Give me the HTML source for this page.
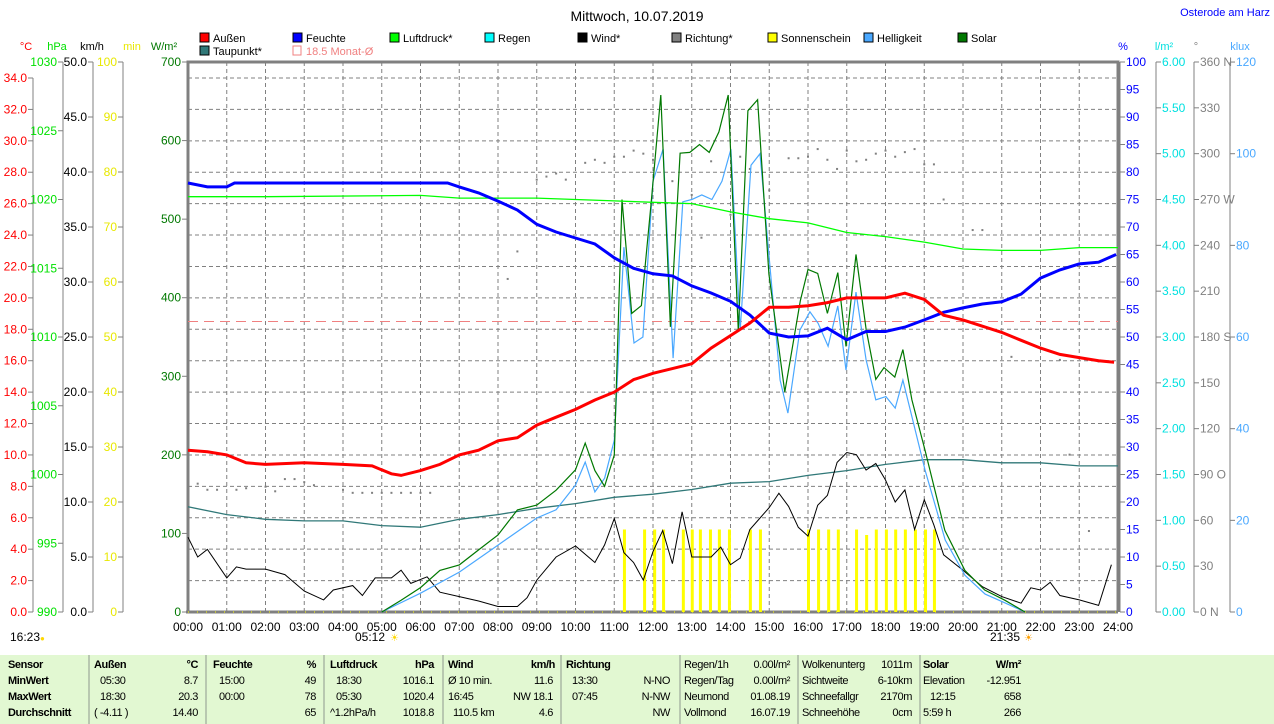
<!DOCTYPE html>
<html><head><meta charset="utf-8">
<style>
body{margin:0;background:#fff;width:1274px;height:724px;overflow:hidden;font-family:"Liberation Sans",sans-serif}
svg{position:absolute;left:0;top:0}
#tbl{position:absolute;left:0;top:655px;width:1274px;height:69px;background:#e2f8d2;font-size:11px;font-family:"Liberation Sans",sans-serif;letter-spacing:-0.4px}
#tbl span{position:absolute;white-space:nowrap}
</style></head><body>
<svg id="chart" width="1274" height="655" font-family="Liberation Sans, sans-serif" font-size="12"></svg>
<div id="tbl"></div>
<script>
// ---- data ----
const tempT=[0,0.5,1,1.5,2,3,4,4.75,5.25,5.5,6,6.5,7,7.5,8,8.5,9,9.5,10,10.5,11,11.5,12,12.5,13,13.5,14,14.5,15,15.5,16,16.5,17,17.5,18,18.5,19,19.5,20,20.5,21,21.5,22,22.5,23,23.5,23.9];
const tempV=[10.3,10.2,10.0,9.5,9.4,9.5,9.4,9.3,8.8,8.7,9.0,9.4,10.0,10.3,10.9,11.1,11.9,12.4,12.9,13.5,14.0,14.8,15.2,15.5,15.8,16.8,17.6,18.4,19.4,19.4,19.5,19.7,20.0,20.0,20.0,20.3,19.9,18.9,18.6,18.2,17.8,17.3,16.8,16.4,16.2,16.0,15.9];
const humT=[0,0.5,1,1.2,5,6.7,7,7.5,8,8.5,9,9.5,10,10.5,11,11.5,12,12.5,13,13.5,14,14.5,15,15.5,16,16.5,17,17.5,18,18.5,19,19.5,20,20.5,21,21.5,22,22.5,23,23.5,23.95];
const humV=[78,77.3,77.3,78,78,78,77.3,76.2,74.7,73.1,70.5,69.1,68,66.9,64.4,62.5,61.5,61.1,59.3,58,56.5,54,50.7,50,50.2,51.6,49.5,51,51,51.8,53.1,54.5,55.3,56,56.4,57.8,60.7,62.2,63.3,63.6,65];
const presT=[0,2,6,7,9,11,12,13,14,15,16,17,18,19,20,21,22,23,24];
const presV=[1020.2,1020.2,1020.3,1020.1,1020.1,1019.9,1019.8,1019.7,1019.1,1018.6,1018.3,1017.6,1017.3,1016.9,1016.4,1016.3,1016.3,1016.5,1016.5];
const dewT=[0,1,2,3,4,5,6,7,8,9,10,11,12,13,14,15,16,17,18,19,20,21,22,23,24];
const dewV=[6.7,6.2,5.9,5.8,5.8,5.5,5.4,5.9,6.2,6.6,6.9,7.3,7.5,7.8,8.2,8.3,8.7,9.0,9.4,9.7,9.7,9.5,9.5,9.3,9.3];
const windT=[0,0.25,0.5,1,1.25,1.5,2,2.5,3,3.5,3.75,4.25,4.5,4.83,5.25,5.5,5.75,6.17,6.5,7,7.5,8,8.5,8.75,9,9.5,10,10.5,10.75,11,11.25,11.5,11.75,12,12.25,12.5,12.75,13,13.5,13.75,14,14.25,14.5,14.75,15,15.25,15.5,15.75,16,16.25,16.5,16.75,17,17.25,17.5,17.75,18,18.25,18.5,18.75,19,19.25,19.5,20,20.5,21,21.5,21.75,22,22.25,22.5,23,23.5,23.83];
const windV=[6.8,5,5.7,3.1,4.1,3.9,3.9,3.4,1.9,1.1,2,2.4,1.5,3.1,3.1,3.8,2.6,3.2,1.8,1.4,1,0.5,0.5,1.3,2.9,5,6,4.5,6.1,8.5,5.4,4.5,2.9,5.5,7.4,4.4,9.1,5,5,5.9,4.3,4.9,7.5,8.5,9.5,10.8,9.6,7.7,6.9,9.7,10.6,13.6,14.5,14.3,12.9,13.5,12,10,11.1,7.5,10.2,7.9,5.2,3.8,2.3,1.4,0.8,2.2,2,2.7,1.5,1.1,0.6,4.3];
const solT=[5,5.5,6,6.5,7,7.5,8,8.5,9,9.5,10,10.25,10.5,10.75,11,11.2,11.45,11.7,11.95,12.2,12.45,12.7,12.95,13.2,13.45,13.7,13.94,14.2,14.45,14.7,14.99,15.4,15.8,16.0,16.25,16.5,16.77,16.98,17.24,17.5,17.75,17.96,18.24,18.45,18.68,19.02,19.53,20.05,20.56,21.08,21.6];
const solV=[0,15,31,53,60,79,98,130,136,155,181,215,180,160,200,525,380,390,520,658,363,584,585,595,585,611,658,358,638,652,430,280,396,436,431,380,432,338,455,360,296,311,299,334,270,206,104,53,28,15,0];
const luxT=[5,6,7,8,9,9.5,10,10.25,10.5,10.75,11,11.25,11.51,11.74,12,12.26,12.52,12.77,13,13.26,13.52,13.78,14.01,14.25,14.53,14.76,14.99,15.28,15.48,15.79,16.05,16.26,16.52,16.77,16.98,17.24,17.5,17.75,18.01,18.25,18.45,19.02,19.54,20.05,20.57,21.08,21.6];
const luxV=[0,4.1,8.7,14.6,20.5,22.3,27.7,32.7,26.2,29.2,37.5,79.6,58.7,60,94,101,55.4,89.5,90,91,90,94,101,61.5,97.5,100,78,50.6,43.4,61.5,65.5,63,58,66.8,52.8,69.8,55,46.3,47,44.5,50.6,31,15.7,8,3.9,2,0];
const sunT=[11.25,11.77,12.03,12.26,12.77,13.0,13.21,13.47,13.7,13.96,14.5,14.76,16.0,16.26,16.52,16.77,17.24,17.5,17.75,18.01,18.25,18.5,18.76,19.02,19.25];
const sunV=[15,15,15,15,15,15,15,15,15,15,15,15,15,15,15,15,15,14,15,15,15,15,15,15,15];
const dirT=[0.25,0.5,0.75,1.25,1.5,2,2.25,2.5,2.75,3,3.25,4,4.25,4.5,4.75,5,5.25,5.5,5.75,6,6.25,8.25,8.5,9,9.25,9.5,9.75,10.25,10.5,10.75,11,11.25,11.5,11.75,12,12.5,13,13.25,13.5,14,14.25,14.5,15,15.5,15.75,16,16.25,16.5,16.75,17,17.25,17.5,17.75,18,18.25,18.5,18.75,19,19.25,19.5,20.25,20.5,21.25,22.5,22.75,23.25,23.5];
const dirV=[84,80,80,80,81,82,79,87,87,85,83,80,78,78,78,78,78,78,78,78,78,218,236,283,285,287,283,294,296,294,298,298,302,300,296,282,273,245,295,260,298,290,276,297,297,298,303,296,290,302,295,296,300,302,298,301,303,293,293,270,250,250,167,165,103,53,164];
// ---- scales ----
const X=h=>188+h*38.75;
const yC=c=>612-c*15.706, yP=p=>612-(p-990)*13.75, yK=k=>612-k*11, yM=m=>612-m*5.5;
const yW=w=>612-w*0.7857, yH=v=>612-v*5.5, yL=v=>612-v*4.583, yD=d=>612-d*1.5278;
const svg=document.getElementById('chart');const NS='http://www.w3.org/2000/svg';
function mk(tag,attrs,txt){const e=document.createElementNS(NS,tag);for(const k in attrs)e.setAttribute(k,attrs[k]);if(txt!==undefined)e.textContent=txt;svg.appendChild(e);return e;}
function txt(x,y,s,fill,anchor,name,size){const e=mk('text',{x:x,y:y,fill:fill,'text-anchor':anchor||'start','font-size':size||12},s);

return e;}
// grid
for(let h=1;h<24;h++){const l=mk('line',{x1:X(h),y1:62,x2:X(h),y2:612,stroke:'#808080','stroke-dasharray':'4,3'});

}
for(let c=2;c<=34;c+=2){const l=mk('line',{x1:188,y1:yC(c),x2:1118,y2:yC(c),stroke:'#808080','stroke-dasharray':'4,3'});

}
// frame
let fr=mk('path',{d:'M188,612 V62 H1118 V612',fill:'none',stroke:'#808080','stroke-width':3});


let xa=mk('line',{x1:186,y1:612,x2:1118,y2:612,stroke:'#808080','stroke-width':3});


let yd=mk('line',{x1:188,y1:612,x2:1118,y2:612,stroke:'#ffff00','stroke-width':1,'stroke-dasharray':'1,8'});


// month avg
let ma=mk('line',{x1:188,y1:yC(18.5),x2:1118,y2:yC(18.5),stroke:'#f08080','stroke-dasharray':'10,6'});


// sunshine bars
sunT.forEach((t,i)=>{const r=mk('rect',{x:X(t)-1,y:yM(sunV[i]),width:3,height:612-yM(sunV[i]),fill:'#ffff00'});

});
// direction dots
dirT.forEach((t,i)=>{const r=mk('rect',{x:X(t)-1,y:yD(dirV[i])-1,width:2,height:2,fill:'#808080'});

});
function line(T,V,f,color,w,name){const d=T.map((t,i)=>(i?'L':'M')+X(t).toFixed(1)+','+f(V[i]).toFixed(1)).join(' ');
const p=mk('path',{d:d,fill:'none',stroke:color,'stroke-width':w});

}
line(dewT,dewV,yC,'#307878',1.3,'dewpoint-line');
line(windT,windV,yK,'#000',1,'wind-line');
line(luxT,luxV,yL,'#4aa8ff',1.2,'brightness-line');
line(solT,solV,yW,'#007800',1.2,'solar-line');
line(presT,presV,yP,'#00ff00',1.3,'pressure-line');
line(humT,humV,yH,'#0000ff',3,'humidity-line');
line(tempT,tempV,yC,'#ff0000',3,'temperature-line');
// left axes
function vaxis(x,vals,f,fmt,color,name){const l=mk('line',{x1:x,y1:f(vals[vals.length-1]),x2:x,y2:612,stroke:'#808080'});


vals.forEach(v=>{mk('line',{x1:x-5,y1:f(v),x2:x,y2:f(v),stroke:'#808080'});txt(x-6,f(v)+4,fmt(v),color,'end',name+'-tick');});}
const r=(a,b,s)=>{const o=[];for(let v=a;v<=b+1e-9;v+=s)o.push(+v.toFixed(3));return o;};
vaxis(33,r(0,34,2),yC,v=>v.toFixed(1),'#ff0000','celsius-axis');
vaxis(63,r(990,1030,5),yP,v=>String(v),'#00e000','hpa-axis');
vaxis(93,r(0,50,5),yK,v=>v.toFixed(1),'#000','kmh-axis');
vaxis(123,r(0,100,10),yM,v=>String(v),'#e8e800','min-axis');
r(0,700,100).forEach(v=>{mk('line',{x1:182,y1:yW(v),x2:188,y2:yW(v),stroke:'#808080'});txt(181,yW(v)+4,String(v),'#007800','end','wm2-axis-tick');});
// right axes
function raxis(x,vals,f,fmt,color,name){const l=mk('line',{x1:x,y1:62,x2:x,y2:612,stroke:'#808080'});


vals.forEach(v=>{mk('line',{x1:x,y1:f(v),x2:x+5,y2:f(v),stroke:'#808080'});txt(x+6,f(v)+4,fmt(v),color,'start',name+'-tick');});}
raxis(1120,r(0,100,5),yH,v=>String(v),'#0000ff','percent-axis');
raxis(1156,r(0,6,0.5),v=>612-v*91.667,v=>v.toFixed(2),'#00e0e0','rain-axis');
const dl={360:'360 N',270:'270 W',180:'180 S',90:'90  O',0:'0   N'};
raxis(1194,r(0,360,30),yD,v=>dl[v]||String(v),'#808080','direction-axis');
raxis(1230,r(0,120,20),yL,v=>String(v),'#4aa8ff','klux-axis');
// x labels
for(let h=0;h<=24;h++)txt(X(h),631,(h<10?'0':'')+h+':00','#000','middle','x-tick');
txt(385,641,'05:12','#000','end','sunrise-time');txt(390,641,'☀','#ffd800','start','sunrise-icon',10);
txt(1020,641,'21:35','#000','end','sunset-time');txt(1024,641,'☀','#ffa000','start','sunset-icon',10);
txt(10,641,'16:23','#000','start','moon-time');txt(40,641,'●','#ffd800','start','moon-icon',8);
// title
txt(637,21,'Mittwoch, 10.07.2019','#000','middle','chart-title',14);
txt(1270,16,'Osterode am Harz','#0000ff','end','station-name',11);
// unit labels
[['°C',26,'#ff0000'],['hPa',57,'#00e000'],['km/h',92,'#000'],['min',132,'#e8e800'],['W/m²',164,'#007800'],['%',1123,'#0000ff'],['l/m²',1164,'#00e0e0'],['°',1196,'#808080'],['klux',1240,'#4aa8ff']].forEach(u=>txt(u[1],50,u[0],u[2],'middle','unit-label',11));
// legend
[['Außen',200,42,'#ff0000'],['Feuchte',293,42,'#0000ff'],['Luftdruck*',390,42,'#00ff00'],['Regen',485,42,'#00ffff'],['Wind*',578,42,'#000'],['Richtung*',672,42,'#808080'],['Sonnenschein',768,42,'#ffff00'],['Helligkeit',864,42,'#4aa8ff'],['Solar',958,42,'#007800'],['Taupunkt*',200,55,'#307878']].forEach(l=>{
const b=mk('rect',{x:l[1],y:l[2]-9,width:9,height:9,fill:l[3],stroke:'#000'});


txt(l[1]+13,l[2],l[0],'#000','start','legend-entry',11);});
const mb=mk('rect',{x:293,y:46,width:8,height:9,fill:'none',stroke:'#f08080'});


txt(306,55,'18.5 Monat-Ø','#f08080','start','legend-entry',11);
// table
const tbl=document.getElementById('tbl');
const cells=[
['Sensor',8,0,1],['MinWert',8,1,1],['MaxWert',8,2,1],['Durchschnitt',8,3,1],
['Außen',94,0,1],['°C',198,0,1,1],['05:30',100,1],['8.7',198,1,0,1],['18:30',100,2],['20.3',198,2,0,1],['( -4.11 )',94,3],['14.40',198,3,0,1],
['Feuchte',213,0,1],['%',316,0,1,1],['15:00',219,1],['49',316,1,0,1],['00:00',219,2],['78',316,2,0,1],['65',316,3,0,1],
['Luftdruck',330,0,1],['hPa',434,0,1,1],['18:30',336,1],['1016.1',434,1,0,1],['05:30',336,2],['1020.4',434,2,0,1],['^1.2hPa/h',330,3],['1018.8',434,3,0,1],
['Wind',448,0,1],['km/h',555,0,1,1],['Ø 10 min.',448,1],['11.6',553,1,0,1],['16:45',448,2],['NW 18.1',553,2,0,1],['110.5 km',453,3],['4.6',553,3,0,1],
['Richtung',566,0,1],['13:30',572,1],['N-NO',670,1,0,1],['07:45',572,2],['N-NW',670,2,0,1],['NW',670,3,0,1],
['Regen/1h',684,0],['0.00l/m²',790,0,0,1],['Regen/Tag',684,1],['0.00l/m²',790,1,0,1],['Neumond',684,2],['01.08.19',790,2,0,1],['Vollmond',684,3],['16.07.19',790,3,0,1],
['Wolkenunterg',802,0],['1011m',912,0,0,1],['Sichtweite',802,1],['6-10km',912,1,0,1],['Schneefallgr',802,2],['2170m',912,2,0,1],['Schneehöhe',802,3],['0cm',912,3,0,1],
['Solar',923,0,1],['W/m²',1021,0,1,1],['Elevation',923,1],['-12.951',1021,1,0,1],['12:15',930,2],['658',1021,2,0,1],['5:59 h',923,3],['266',1021,3,0,1]];
cells.forEach(c=>{const s=document.createElement('span');s.textContent=c[0];


s.style.top=(4+c[2]*16)+'px';if(c[3])s.style.fontWeight='bold';
if(c[4]){s.style.right=(1274-c[1])+'px';}else s.style.left=c[1]+'px';tbl.appendChild(s);});
[88,205,323,442,560,679,797,919,1275].forEach(x=>{const d=document.createElement('div');d.style.cssText='position:absolute;top:0;height:69px;width:2px;background:#b8c8b0;left:'+x+'px';

tbl.appendChild(d);});
</script>
</body></html>
